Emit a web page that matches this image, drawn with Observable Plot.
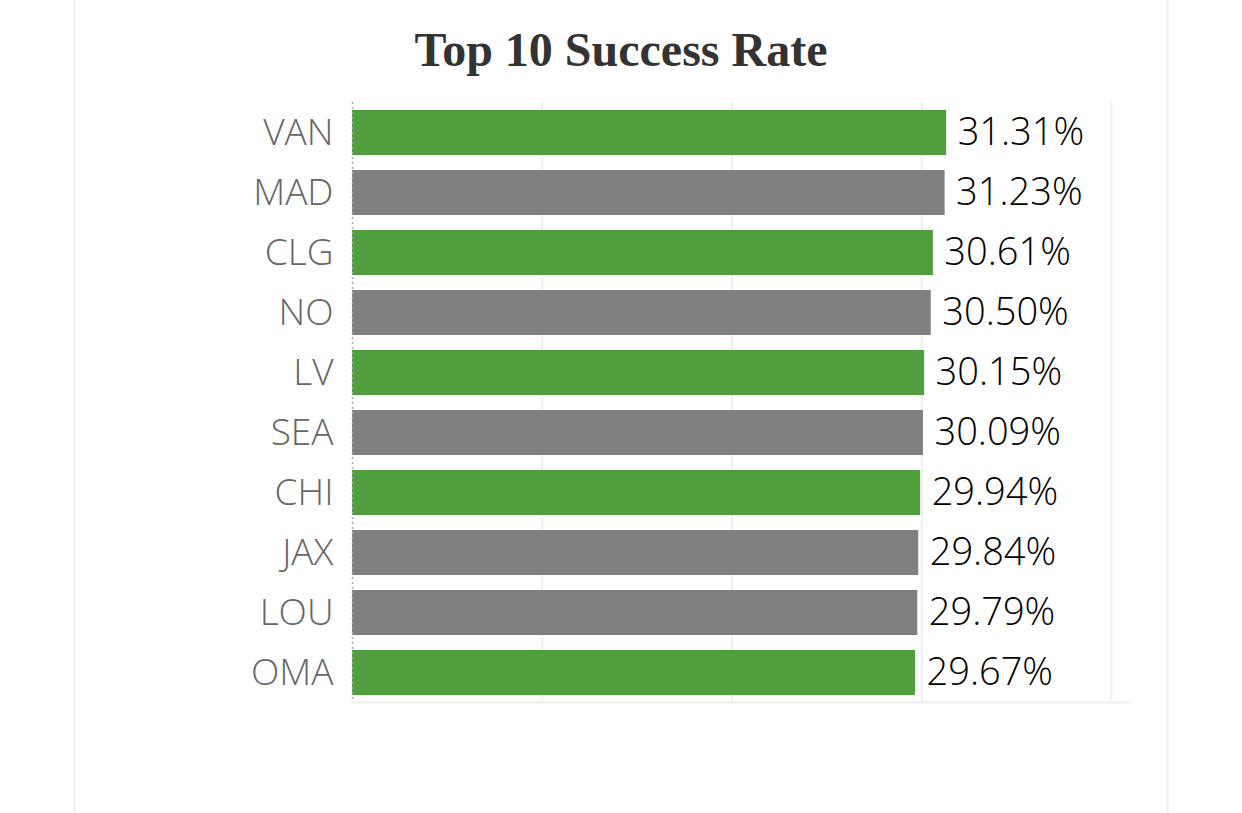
<!DOCTYPE html>
<html>
<head>
<meta charset="utf-8">
<script src="https://cdn.jsdelivr.net/npm/d3@7"></script>
<script src="https://cdn.jsdelivr.net/npm/@observablehq/plot@0.6"></script>
<style>
  html, body { margin: 0; padding: 0; background: #fff; }
  #page { position: relative; width: 1242px; height: 813px; overflow: hidden; }
  .edge { position: absolute; top: 0; bottom: 0; width: 3px; background: #f3f3f3; }
  #title { position: absolute; left: 0; top: 0; width: 1242px; height: 90px; text-align: center;
           font-family: "Liberation Serif", "Times New Roman", serif; font-weight: bold; font-size: 48px;
           color: #333; line-height: 100px; }
  #chart { position: absolute; left: 0; top: 90px; }
</style>
</head>
<body>
<div id="page">
  <div class="edge" style="left:73px"></div>
  <div class="edge" style="left:1166px"></div>
  <div id="title">Top 10 Success Rate</div>
  <div id="chart"></div>
</div>
<script>
const teams = ["VAN", "MAD", "CLG", "NO", "LV", "SEA", "CHI", "JAX", "LOU", "OMA"];
const rates = [0.3131, 0.3123, 0.3061, 0.3050, 0.3015, 0.3009, 0.2994, 0.2984, 0.2979, 0.2967];
const groups = ["A", "B", "A", "B", "A", "B", "A", "B", "B", "A"];
const gridTicks = [0.1, 0.2, 0.3, 0.4];

const data = teams.map((t, i) => ({team: t, rate: rates[i], group: groups[i]}));

const chart = Plot.plot({
  width: 1242,
  height: 723,
  marginLeft: 352,
  marginRight: 112,
  marginTop: 12,
  marginBottom: 111,
  style: {fontFamily: "'Open Sans', sans-serif", fontSize: "37px", background: "transparent"},
  x: {domain: [0, 0.41], axis: null},
  y: {domain: teams, paddingInner: 0.25, paddingOuter: 0.125, label: null},
  color: {domain: ["A", "B"], range: ["#519e3e", "#808080"]},
  marks: [
    Plot.gridX(gridTicks, {stroke: "#efefef", strokeOpacity: 1, strokeWidth: 2}),
    Plot.frame({anchor: "bottom", stroke: "#eeeeee", strokeWidth: 2}),
    Plot.barX(data, {x: "rate", y: "team", fill: "group"}),
    Plot.ruleX([0], {stroke: "#aaaaaa", strokeDasharray: "2,3", strokeWidth: 1.5}),
    Plot.text(data, {x: "rate", y: "team", text: d => (d.rate * 100).toFixed(2) + "%",
      textAnchor: "start", dx: 11, fill: "#000", fontWeight: 340, fontSize: 38}),
    Plot.axisY({tickSize: 0, tickPadding: 19, color: "#666", fontWeight: 300, fontSize: 37, label: null})
  ]
});
document.getElementById("chart").appendChild(chart);
</script>
</body>
</html>
